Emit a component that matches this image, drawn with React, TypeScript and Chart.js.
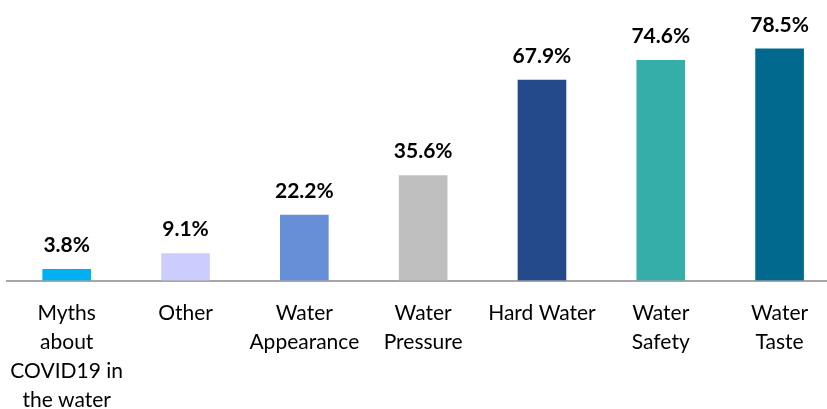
import React, { useEffect, useRef } from "react";
import { Chart, registerables } from "chart.js";

Chart.register(...registerables);

const categories: string[][] = [
  ["Myths", "about", "COVID19 in", "the water"],
  ["Other"],
  ["Water", "Appearance"],
  ["Water", "Pressure"],
  ["Hard Water"],
  ["Water", "Safety"],
  ["Water", "Taste"],
];
const values: number[] = [3.8, 9.1, 22.2, 35.6, 67.9, 74.6, 78.5];
const barColors: string[] = [
  "#00B0F0",
  "#CCCCFF",
  "#668FD7",
  "#BFBFBF",
  "#244A8C",
  "#35ADA9",
  "#00698D",
];

const valueLabelPlugin = {
  id: "valueLabels",
  afterDatasetsDraw(chart: any) {
    const ctx = chart.ctx;
    const meta = chart.getDatasetMeta(0);
    ctx.save();
    ctx.font = "bold 21px Lato";
    ctx.fillStyle = "#000000";
    ctx.textAlign = "center";
    ctx.textBaseline = "middle";
    meta.data.forEach((el: any, i: number) => {
      ctx.fillText(values[i].toFixed(1) + "%", el.x, el.y - 24);
    });
    ctx.restore();
  },
};

export default function App() {
  const ref = useRef<HTMLCanvasElement | null>(null);
  useEffect(() => {
    if (!ref.current) return;
    const chart = new Chart(ref.current, {
      type: "bar",
      data: {
        labels: categories,
        datasets: [
          {
            data: values,
            backgroundColor: barColors,
            barThickness: 48,
          },
        ],
      },
      options: {
        animation: false,
        responsive: false,
        maintainAspectRatio: false,
        layout: { padding: { left: 5, right: 1, top: 15, bottom: 0 } },
        plugins: {
          legend: { display: false },
          tooltip: { enabled: false },
        },
        scales: {
          x: {
            grid: { display: false },
            border: { display: true, color: "#A6A6A6", width: 2 },
            ticks: {
              color: "#000000",
              font: { family: "Lato", size: 21, lineHeight: 1.38 },
              padding: 10,
              maxRotation: 0,
              autoSkip: false,
            },
            afterFit: (scale: any) => {
              scale.height = 128.5;
            },
          },
          y: {
            display: false,
            min: 0,
            max: 90,
          },
        },
      },
      plugins: [valueLabelPlugin],
    });
    return () => chart.destroy();
  }, []);
  return (
    <div style={{ position: "absolute", left: 0, top: 0, width: 840, height: 409 }}>
      <canvas ref={ref} width={840} height={409} style={{ width: 840, height: 409 }} />
    </div>
  );
}
